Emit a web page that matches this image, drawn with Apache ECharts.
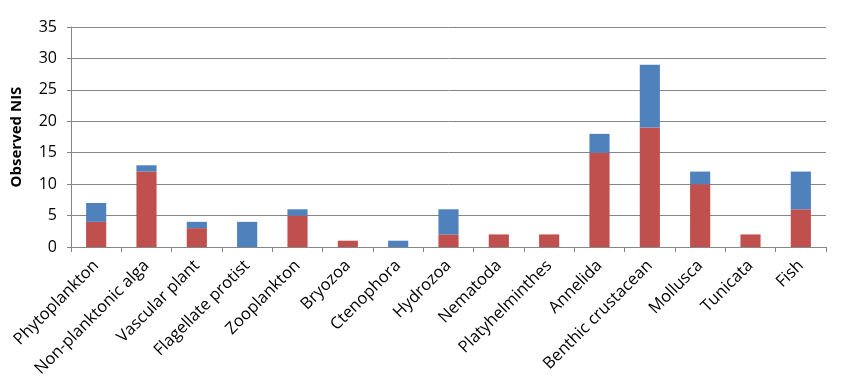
<!DOCTYPE html>
<html><head><meta charset="utf-8">
<script src="https://cdn.jsdelivr.net/npm/echarts@6/dist/echarts.min.js"></script>
<style>html,body{margin:0;padding:0;background:#fff}#c{width:849px;height:388px}</style>
</head><body><div id="c"></div>
<script>
const categories = ["Phytoplankton","Non-planktonic alga","Vascular plant","Flagellate protist","Zooplankton","Bryozoa","Ctenophora","Hydrozoa","Nematoda","Platyhelminthes","Annelida","Benthic crustacean","Mollusca","Tunicata","Fish"];
const redValues = [4,12,3,0,5,1,0,2,2,2,15,19,10,2,6];
const blueValues = [3,1,1,4,1,0,1,4,0,0,3,10,2,0,6];
const yTicks = {min:0,max:35,interval:5};
const font = "'Open Sans', 'Liberation Sans', sans-serif";
const chart = echarts.init(document.getElementById('c'));
chart.setOption({
  animation:false,
  grid:{left:71,right:23,top:27,bottom:141},
  xAxis:{type:'category',data:categories,boundaryGap:true,
    axisLine:{lineStyle:{color:'#868686',width:1}},
    axisTick:{show:true,length:5,alignWithLabel:false,lineStyle:{color:'#868686'}},
    axisLabel:{rotate:45,interval:0,color:'#000',fontSize:16.5,fontFamily:font,margin:16}},
  yAxis:{type:'value',min:yTicks.min,max:yTicks.max,interval:yTicks.interval,
    name:'Observed NIS',nameLocation:'middle',nameGap:47,nameRotate:90,
    nameTextStyle:{fontSize:15,fontWeight:'bold',fontFamily:font,color:'#000'},
    axisLine:{show:true,lineStyle:{color:'#868686'}},
    axisTick:{show:true,length:4,lineStyle:{color:'#868686'}},
    splitLine:{lineStyle:{color:'#868686',width:1}},
    axisLabel:{color:'#000',fontSize:16,fontFamily:font,margin:14}},
  series:[
    {type:'bar',stack:'a',data:redValues,barWidth:'40%',itemStyle:{color:'#C0504D'}},
    {type:'bar',stack:'a',data:blueValues,barWidth:'40%',itemStyle:{color:'#4F81BD'}}
  ]
});
</script></body></html>
